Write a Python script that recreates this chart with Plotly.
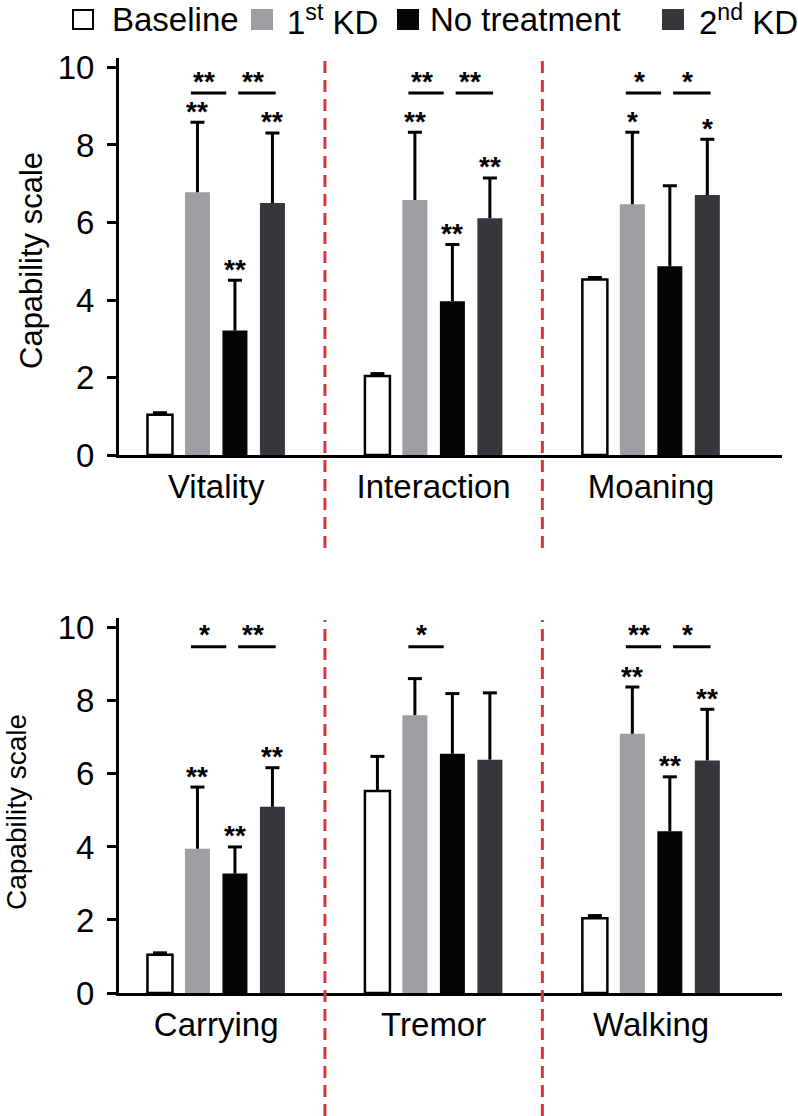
import plotly.graph_objects as go

# ---------------- data ----------------
series_names = ["Baseline", "1st KD", "No treatment", "2nd KD"]
legend_labels = ["Baseline", "1<sup>st</sup> KD", "No treatment", "2<sup>nd</sup> KD"]

top_categories = ["Vitality", "Interaction", "Moaning"]
bottom_categories = ["Carrying", "Tremor", "Walking"]

top_baseline = [1.04, 2.04, 4.53]
top_kd1 = [6.78, 6.58, 6.47]
top_none = [3.21, 3.97, 4.87]
top_kd2 = [6.50, 6.11, 6.71]
top_baseline_err = [0.05, 0.06, 0.05]
top_kd1_err = [1.81, 1.75, 1.86]
top_none_err = [1.30, 1.46, 2.08]
top_kd2_err = [1.81, 1.04, 1.44]

bottom_baseline = [1.05, 5.53, 2.05]
bottom_kd1 = [3.95, 7.61, 7.10]
bottom_none = [3.27, 6.55, 4.43]
bottom_kd2 = [5.10, 6.39, 6.37]
bottom_baseline_err = [0.05, 0.95, 0.07]
bottom_kd1_err = [1.69, 1.00, 1.28]
bottom_none_err = [0.73, 1.65, 1.49]
bottom_kd2_err = [1.07, 1.83, 1.40]

# significance vs baseline (per bar) and between neighbouring treatments
top_bar_sig = [["", "**", "**", "**"], ["", "**", "**", "**"], ["", "*", "", "*"]]
top_pair_sig = [["**", "**"], ["**", "**"], ["*", "*"]]
bottom_bar_sig = [["", "**", "**", "**"], ["", "", "", ""], ["", "**", "**", "**"]]
bottom_pair_sig = [["*", "**"], ["*", ""], ["**", "*"]]

y_ticks = [0, 2, 4, 6, 8, 10]

# ---------------- style ----------------
W, H = 798, 1116
colors = ["#ffffff", "#9d9ea2", "#050505", "#36373b"]
outline = [2.5, 0, 0, 0]
FONT = "Liberation Sans, Arial, Helvetica, sans-serif"
RED = "#d8353c"
slot = 0.1724
bar_w = 0.115
offsets = [(k - 1.5) * slot for k in range(4)]


def px(x):
    return x / W


def py(y):
    return 1 - y / H


fig = go.Figure()

panels = [
    dict(xa="x", ya="y", cats=top_categories,
         vals=[top_baseline, top_kd1, top_none, top_kd2],
         errs=[top_baseline_err, top_kd1_err, top_none_err, top_kd2_err],
         bsig=top_bar_sig, psig=top_pair_sig, bracket=9.34),
    dict(xa="x2", ya="y2", cats=bottom_categories,
         vals=[bottom_baseline, bottom_kd1, bottom_none, bottom_kd2],
         errs=[bottom_baseline_err, bottom_kd1_err, bottom_none_err, bottom_kd2_err],
         bsig=bottom_bar_sig, psig=bottom_pair_sig, bracket=9.48),
]

annotations = []
shapes = []
STAR_FONT = dict(family=FONT, size=28, color="black", weight="bold")

for p in panels:
    n = len(p["cats"])
    for k in range(4):
        xs = [i + offsets[k] for i in range(n)]
        fig.add_trace(go.Bar(
            x=xs, y=p["vals"][k], width=bar_w, xaxis=p["xa"], yaxis=p["ya"],
            marker=dict(color=colors[k], line=dict(color="black", width=outline[k])),
            name=series_names[k], showlegend=False, hoverinfo="y"))
    for k in range(4):
        xs = [i + offsets[k] for i in range(n)]
        tops = [v + e for v, e in zip(p["vals"][k], p["errs"][k])]
        fig.add_trace(go.Scatter(
            x=xs, y=tops, mode="markers", xaxis=p["xa"], yaxis=p["ya"],
            marker=dict(symbol="line-ew", size=10, color="black",
                        line=dict(color="black", width=3)),
            error_y=dict(type="data", symmetric=False, array=[0] * n,
                         arrayminus=p["errs"][k], width=0, thickness=3,
                         color="black"),
            showlegend=False, hoverinfo="skip"))
        # stars above bars
        for i in range(n):
            s = p["bsig"][i][k]
            if s:
                annotations.append(dict(
                    x=xs[i], y=tops[i], xref=p["xa"], yref=p["ya"], text=s,
                    showarrow=False, xanchor="center", yanchor="middle", yshift=11,
                    font=STAR_FONT))
    # brackets between treatments
    for i in range(n):
        pairs = [(1, 2), (2, 3)]
        pads = [(-0.03, -0.04), (0.015, 0.015)]
        for j, (a, b) in enumerate(pairs):
            s = p["psig"][i][j]
            if not s:
                continue
            x0 = i + offsets[a] + pads[j][0]
            x1 = i + offsets[b] + pads[j][1]
            shapes.append(dict(type="line", xref=p["xa"], yref=p["ya"],
                               x0=x0, x1=x1, y0=p["bracket"], y1=p["bracket"],
                               line=dict(color="black", width=3)))
            annotations.append(dict(
                x=(x0 + x1) / 2 - 0.02, y=p["bracket"], xref=p["xa"], yref=p["ya"],
                text=s, showarrow=False, xanchor="center", yanchor="middle", yshift=12,
                font=STAR_FONT))

# red dashed separators
for xa, y0, y1 in [("x", py(548), py(57)), ("x2", py(1116), py(620))]:
    for xv in [0.5, 1.5]:
        shapes.append(dict(type="line", xref=xa, yref="paper", x0=xv, x1=xv,
                           y0=y0, y1=y1,
                           line=dict(color=RED, width=3, dash="12px,7px")))

# legend (manual)
leg_boxes = [73, 252, 398, 663]
leg_text_x = [110, 285, 428, 697]
for k in range(4):
    shapes.append(dict(type="rect", xref="paper", yref="paper",
                       x0=px(leg_boxes[k]), x1=px(leg_boxes[k] + 20),
                       y0=py(29), y1=py(10),
                       fillcolor=colors[k],
                       line=dict(color="black" if k == 0 else colors[k], width=2)))
    annotations.append(dict(x=px(leg_text_x[k]), y=py(20), xref="paper", yref="paper",
                            text=legend_labels[k], showarrow=False,
                            xanchor="left", yanchor="middle",
                            font=dict(family=FONT, size=33, color="black")))

# y-axis titles
annotations.append(dict(x=px(31), y=py(261), xref="paper", yref="paper",
                        text="Capability scale", textangle=-90, showarrow=False,
                        xanchor="center", yanchor="middle",
                        font=dict(family=FONT, size=31, color="black")))
annotations.append(dict(x=px(16), y=py(812), xref="paper", yref="paper",
                        text="Capability scale", textangle=-90, showarrow=False,
                        xanchor="center", yanchor="middle",
                        font=dict(family=FONT, size=28, color="black")))

xdom = [px(119), px(782)]
xrange = [-0.447, 2.602]
common_x = dict(showline=True, linecolor="black", linewidth=3, ticks="",
                showgrid=False, zeroline=False, range=xrange,
                tickvals=[0, 1, 2],
                tickfont=dict(family=FONT, size=33, color="black"))
common_y = dict(showline=True, linecolor="black", linewidth=3, ticks="outside",
                ticklen=9, tickwidth=3, tickcolor="black", ticklabelstandoff=6,
                showgrid=False, zeroline=False, tickvals=y_ticks,
                tickfont=dict(family=FONT, size=33, color="black"))

fig.update_layout(
    width=W, height=H,
    margin=dict(l=0, r=0, t=0, b=0, autoexpand=False),
    paper_bgcolor="white", plot_bgcolor="white",
    showlegend=False,
    xaxis=dict(domain=xdom, anchor="y", ticktext=top_categories, **common_x),
    yaxis=dict(domain=[py(455), py(57.8)], anchor="x", range=[0, 10.25], **common_y),
    xaxis2=dict(domain=xdom, anchor="y2", ticktext=bottom_categories, **common_x),
    yaxis2=dict(domain=[py(993), py(618)], anchor="x2", range=[0, 10.27], **common_y),
    shapes=shapes,
    annotations=annotations,
)

fig.write_html("out.html",
               config={"displayModeBar": False},
               post_script="document.body.style.margin='0';"
                           "document.body.style.overflow='hidden';")
